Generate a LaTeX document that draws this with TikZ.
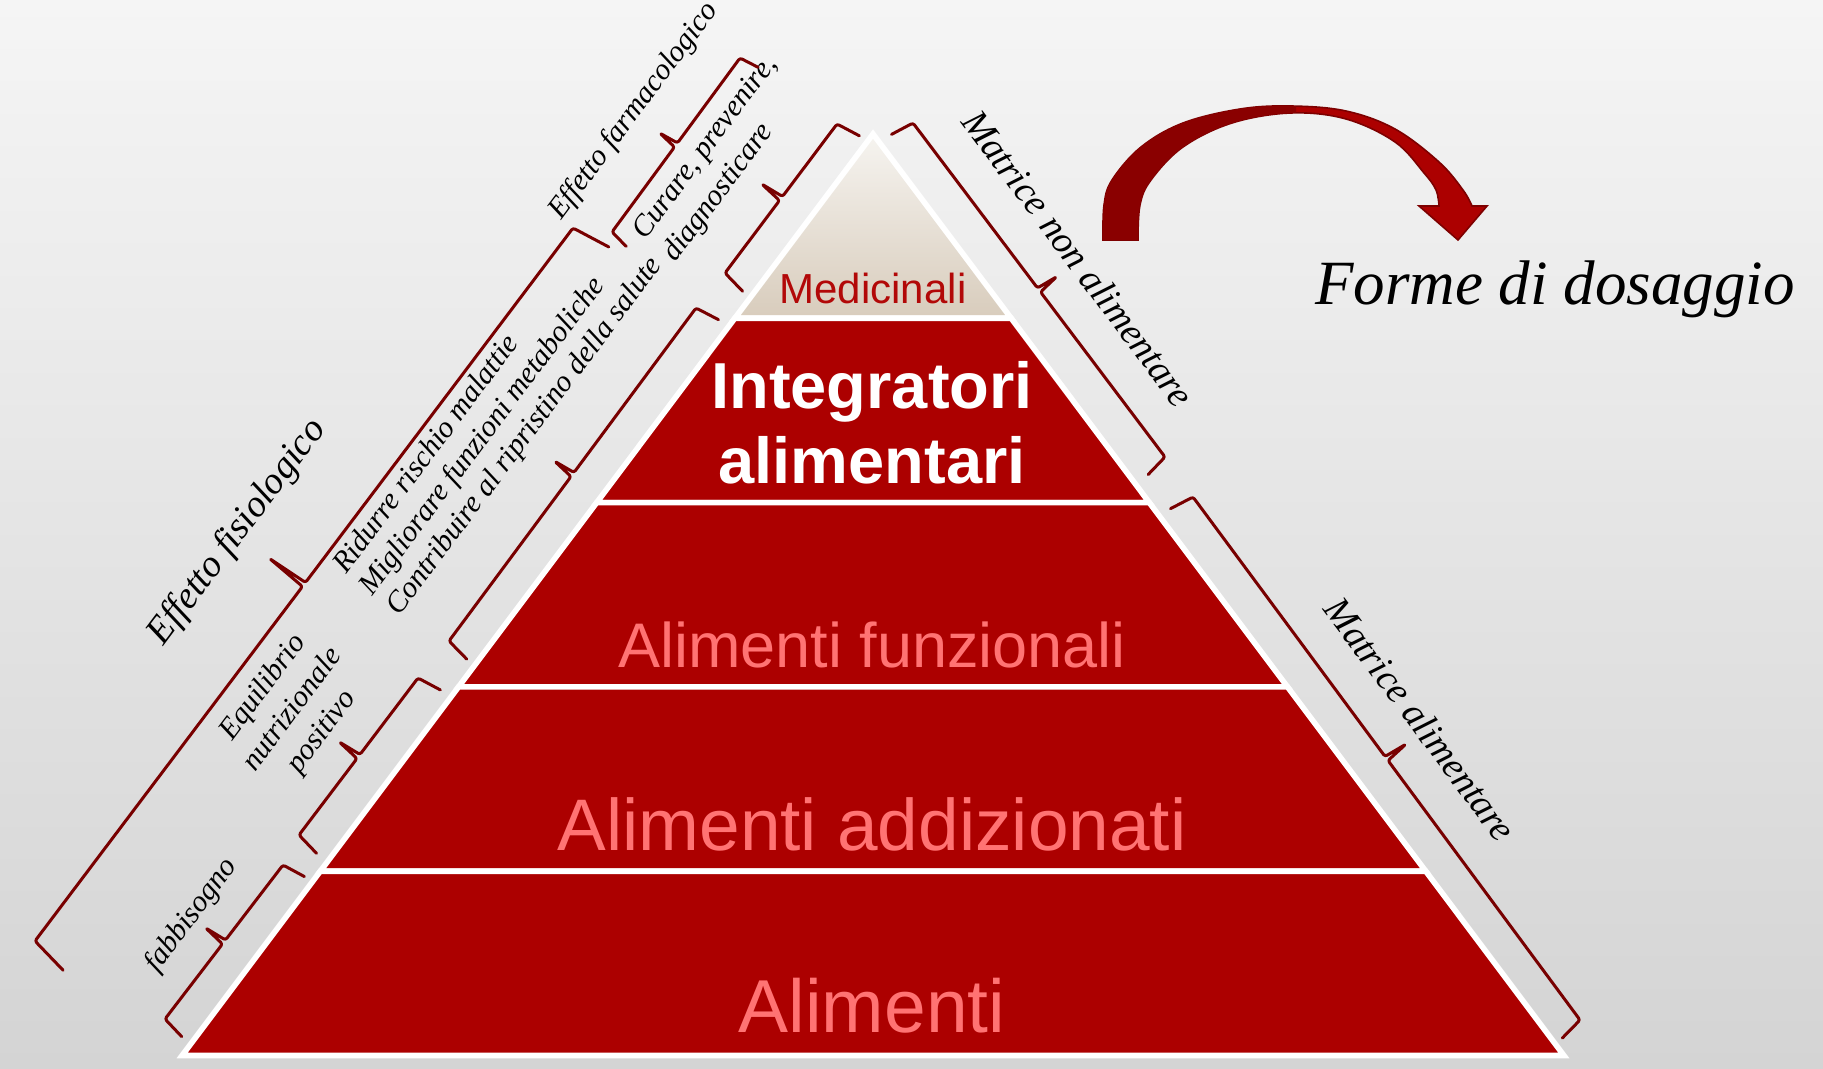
\documentclass[tikz,border=0pt]{standalone}
\usepackage{fontspec}
\setmainfont{Liberation Serif}
\newfontfamily\arialf{Liberation Sans}
\definecolor{pyrred}{RGB}{172,0,0}
\definecolor{brcol}{RGB}{120,0,0}
\definecolor{salmontxt}{RGB}{255,115,115}
\definecolor{medred}{RGB}{178,8,8}
\definecolor{arrdark}{RGB}{138,0,0}
\definecolor{arrbright}{RGB}{172,0,0}
\definecolor{arrline}{RGB}{125,0,0}
\definecolor{bgtop}{RGB}{245,245,245}
\definecolor{bgbot}{RGB}{212,212,212}
\definecolor{medtop}{RGB}{246,244,240}
\definecolor{medbot}{RGB}{216,204,188}
% brace: start (x,y), end (x,y), hook length, tick length ; outward normal = (uy,-ux)
\newcommand\PyrBrace[6]{%
  \pgfmathsetmacro\pbdx{(#3)-(#1)}%
  \pgfmathsetmacro\pbdy{(#4)-(#2)}%
  \pgfmathsetmacro\pbl{veclen(\pbdx,\pbdy)}%
  \pgfmathsetmacro\pbux{(\pbdx)/(\pbl)}%
  \pgfmathsetmacro\pbuy{(\pbdy)/(\pbl)}%
  \pgfmathsetmacro\pbnx{\pbuy}%
  \pgfmathsetmacro\pbny{-(\pbux)}%
  \pgfmathsetmacro\pbf{0.16*(#5)}%
  \pgfmathsetmacro\pbmx{((#1)+(#3))/2}%
  \pgfmathsetmacro\pbmy{((#2)+(#4))/2}%
  \draw[bracelin]
    ({#1-(#5)*(\pbnx)-(\pbf)*(\pbux)},{#2-(#5)*(\pbny)-(\pbf)*(\pbuy)})
    -- (#1,#2)
    -- ({\pbmx-2.5*(\pbux)},{\pbmy-2.5*(\pbuy)})
    -- ({\pbmx+(#6)*(\pbnx)},{\pbmy+(#6)*(\pbny)})
    -- ({\pbmx+2.5*(\pbux)},{\pbmy+2.5*(\pbuy)})
    -- (#3,#4)
    -- ({#3-(#5)*(\pbnx)+(\pbf)*(\pbux)},{#4-(#5)*(\pbny)+(\pbf)*(\pbuy)});%
}
\begin{document}
\begin{tikzpicture}[x=0.5pt,y=-0.5pt,
  layer/.style={fill=pyrred,draw=white,line width=2.8pt,line join=miter},
  bracelin/.style={draw=brcol,line width=1.5pt,rounded corners=1.2pt,line cap=round,line join=round},
  sidesm/.style={font=\fontsize{15}{18}\selectfont\itshape,inner sep=0pt,text=black},
  sidebig/.style={font=\fontsize{19}{22}\selectfont\itshape,inner sep=0pt,text=black},
  lft/.style={rotate=53.13},
  rgt/.style={rotate=-53.13},
  pyrtxt/.style={inner sep=0pt,anchor=base}]
\useasboundingbox (0,0) rectangle (1823,1069);
% background
\shade[top color=bgtop,bottom color=bgbot] (0,0) rectangle (1823,1069);

% curved arrow
\filldraw[fill=arrbright,draw=arrline,line width=0.8pt]
  plot[smooth,tension=0.6] coordinates {(1103,240) (1104,205) (1112,180) (1141,147) (1183,123) (1240,109) (1291,106) (1346,111) (1395,129) (1439,162) (1463,190) (1472,206)}
  -- (1487,206) -- (1458,240) -- (1419,206)
  -- plot[smooth,tension=0.6] coordinates {(1439,206) (1436,190) (1424,173) (1395,142) (1346,119) (1291,113) (1232,123) (1183,147) (1151,180) (1140,205) (1138,240)}
  -- cycle;
\begin{scope}
\clip (1090,90) rectangle (1296,250);
\fill[arrdark]
  plot[smooth,tension=0.6] coordinates {(1103,240) (1104,205) (1112,180) (1141,147) (1183,123) (1240,109) (1291,106) (1346,111) (1395,129) (1439,162) (1463,190) (1472,206)}
  -- (1487,206) -- (1458,240) -- (1419,206)
  -- plot[smooth,tension=0.6] coordinates {(1439,206) (1436,190) (1424,173) (1395,142) (1346,119) (1291,113) (1232,123) (1183,147) (1151,180) (1140,205) (1138,240)}
  -- cycle;
\end{scope}

% pyramid layers
\shadedraw[top color=medtop,bottom color=medbot,draw=white,line width=2.8pt,line join=miter]
  (873,134) -- (1011.2,318.3) -- (734.8,318.3) -- cycle;
\path[layer] (734.8,318.3) -- (1011.2,318.3) -- (1149.3,502.6) -- (596.7,502.6) -- cycle;
\path[layer] (596.7,502.6) -- (1149.3,502.6) -- (1287.5,686.9) -- (458.5,686.9) -- cycle;
\path[layer] (458.5,686.9) -- (1287.5,686.9) -- (1425.7,871.2) -- (320.3,871.2) -- cycle;
\path[layer] (320.3,871.2) -- (1425.7,871.2) -- (1563.9,1055.5) -- (182.1,1055.5) -- cycle;

% layer texts
\node[pyrtxt,text=medred,font=\arialf\fontsize{21}{25}\selectfont] (tmed) at (873,304) {Medicinali};
\node[pyrtxt,text=white,font=\arialf\bfseries\fontsize{32.5}{38}\selectfont] (tint1) at (872,408) {Integratori};
\node[pyrtxt,text=white,font=\arialf\bfseries\fontsize{32.5}{38}\selectfont] (tint2) at (872,483) {alimentari};
\node[pyrtxt,text=salmontxt,font=\arialf\fontsize{31.5}{36}\selectfont] (tfunz) at (872,667) {Alimenti funzionali};
\node[pyrtxt,text=salmontxt,font=\arialf\fontsize{36.5}{42}\selectfont] (taddiz) at (872,850) {Alimenti addizionati};
\node[pyrtxt,text=salmontxt,font=\arialf\fontsize{37.5}{43}\selectfont] (talim) at (872,1032) {Alimenti};

% right title
\node[pyrtxt,font=\fontsize{31.5}{36}\selectfont\itshape] (tforme) at (1555,305) {Forme di dosaggio};

% left side texts
\node[sidesm,lft,anchor=base] (tfarm) at (640,116) {Effetto farmacologico};
\node[sidesm,lft,anchor=base west] (tcur1) at (645,241) {Curare, prevenire,};
\node[sidesm,lft,anchor=base west] (tcur2) at (675,263) {diagnosticare};
\node[sidebig,lft,anchor=base] (tfis) at (245,538) {Effetto fisiologico};
\node[sidesm,lft,anchor=base west] (trid1) at (346,575) {Ridurre rischio malattie};
\node[sidesm,lft,anchor=base west] (trid2) at (372,597) {Migliorare funzioni metaboliche};
\node[sidesm,lft,anchor=base west] (trid3) at (399,617) {Contribuire al ripristino della salute};
\node[sidesm,lft,anchor=base] (teq1) at (269,692) {Equilibrio};
\node[sidesm,lft,anchor=base] (teq2) at (298.6,714.2) {nutrizionale};
\node[sidesm,lft,anchor=base] (teq3) at (328.2,736.4) {positivo};
\node[sidesm,lft,anchor=base] (tfab) at (197,920) {fabbisogno};

% right side texts
\node[sidebig,rgt,anchor=base] (tmna) at (1068,266) {Matrice non alimentare};
\node[sidebig,rgt,anchor=base] (tma) at (1410,727) {Matrice alimentare};

% braces
\PyrBrace{35}{941}{573}{228}{40}{43}
\PyrBrace{612}{232}{740}{58}{20}{20}
\PyrBrace{725}{273}{837}{124}{25}{24}
\PyrBrace{449}{641}{696}{308}{25}{22}
\PyrBrace{299}{835}{418}{678}{25}{24}
\PyrBrace{165}{1019}{283}{865}{24}{23}
\PyrBrace{913}{123}{1165}{457}{24}{22}
\PyrBrace{1193}{497}{1580}{1020}{25}{24}
\end{tikzpicture}
\end{document}
